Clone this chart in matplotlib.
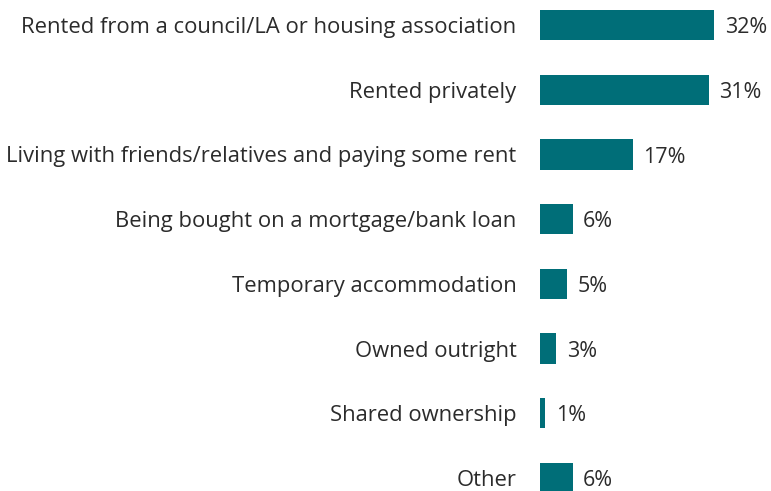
import matplotlib.pyplot as plt

# tenure categories and shares (%)
categories = [
    "Rented from a council/LA or housing association",
    "Rented privately",
    "Living with friends/relatives and paying some rent",
    "Being bought on a mortgage/bank loan",
    "Temporary accommodation",
    "Owned outright",
    "Shared ownership",
    "Other",
]
shares = [32, 31, 17, 6, 5, 3, 1, 6]
share_labels = ["32%", "31%", "17%", "6%", "5%", "3%", "1%", "6%"]

plt.rcParams['font.family'] = ['Open Sans', 'DejaVu Sans']
text_col = '#2b2b2b'
bar_col = '#006e78'

fig = plt.figure(figsize=(7.71, 4.91), dpi=100)
ax = fig.add_axes([540 / 771, 0, 231 / 771, 1])

ypos = list(range(len(categories)))
bars = ax.barh(ypos, shares, height=0.47, color=bar_col)

for b, lab in zip(bars, share_labels):
    ax.text(b.get_width() + 1.9, b.get_y() + b.get_height() / 2 + 0.04, lab,
            va='center', ha='left', fontsize=15.5, color=text_col)

ax.set_yticks(ypos)
ax.set_yticklabels(categories, fontsize=15.8, color=text_col)
ax.tick_params(axis='y', length=0, pad=17)
ax.set_xticks([])
ax.set_xlim(0, 231 / 5.45)
ax.set_ylim(7 + 13 / 64.7, -25 / 64.7)
for s in ax.spines.values():
    s.set_visible(False)

fig.savefig('out.png', dpi=100)
